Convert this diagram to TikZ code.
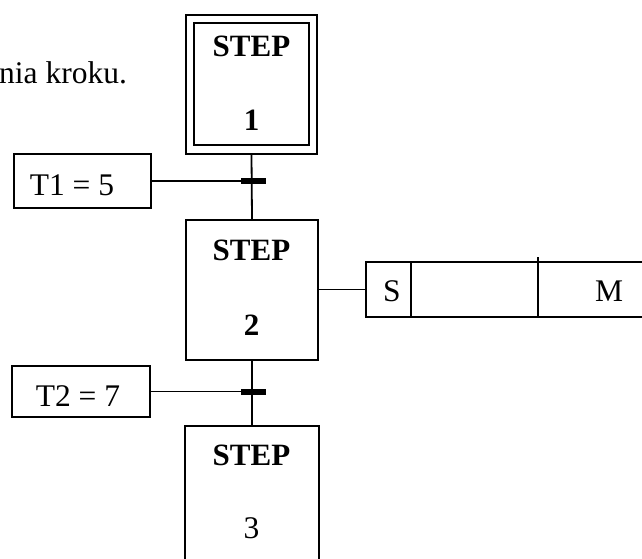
\documentclass[tikz,border=0pt]{standalone}
\usepackage{fontspec}
\setmainfont{Liberation Serif}
\begin{document}
\begin{tikzpicture}[x=1pt,y=-1pt,
  box/.style={draw, line width=2pt, inner sep=0pt, anchor=north west},
  wire/.style={line width=1.8pt},
  lbl/.style={inner sep=0pt, anchor=base, font=\fontsize{31.5}{37}\selectfont},
  blbl/.style={inner sep=0pt, anchor=base, font=\fontsize{31}{37}\selectfont\bfseries},
  tbar/.style={fill=black, inner sep=0pt, minimum width=25pt, minimum height=6pt}]
\clip (0,0) rectangle (642,558);
% text fragment
\node[lbl, anchor=base west] (note) at (-1,83) {nia kroku.};
% step 1 (initial step, double frame)
\node[box, minimum width=131pt, minimum height=139pt] (s1) at (185,14) {};
\node[box, minimum width=115pt, minimum height=122pt] (s1in) at (193,22) {};
\node[blbl] (s1a) at (251.5,56) {STEP};
\node[blbl] (s1b) at (251.5,130) {1};
% step 2
\node[box, minimum width=132pt, minimum height=140pt] (s2) at (185,219) {};
\node[blbl] (s2a) at (251.5,260) {STEP};
\node[blbl] (s2b) at (251.5,335) {2};
% step 3 (open at bottom, clipped)
\node[box, minimum width=134pt, minimum height=160pt] (s3) at (184,425) {};
\node[blbl] (s3a) at (251.5,465) {STEP};
\node[lbl] (s3b) at (251.5,538) {3};
% transition conditions
\node[box, minimum width=137pt, minimum height=54pt] (t1) at (13,153) {};
\node[lbl] (t1l) at (72,195) {T1 = 5};
\node[box, minimum width=138pt, minimum height=51pt] (t2) at (11,365) {};
\node[lbl] (t2l) at (78,406) {T2 = 7};
% action box
\node[box, minimum width=300pt, minimum height=55pt] (act) at (365,261) {};
\node[lbl] (acts) at (392,301) {S};
\node[lbl] (actm) at (609,301) {M};
\draw[line width=2pt] (411,261) -- (411,316);
\draw[line width=2pt] (538,257) -- (538,316);
% connectors
\draw[wire] (s1.south) -- (s2.north);
\draw[wire] (s2.south) -- (s3.north);
\draw[wire] (t1.east) -- (t1.east -| s1.south);
\draw[wire] (t2.east) -- (t2.east -| s2.south);
\draw[wire] (s2.east |- act.west) -- (act.west);
% transition bars
\node[tbar] (b1) at ([xshift=2pt]s1.south |- t1.east) {};
\node[tbar] (b2) at ([xshift=1.5pt]s2.south |- t2.east) {};
\end{tikzpicture}
\end{document}
